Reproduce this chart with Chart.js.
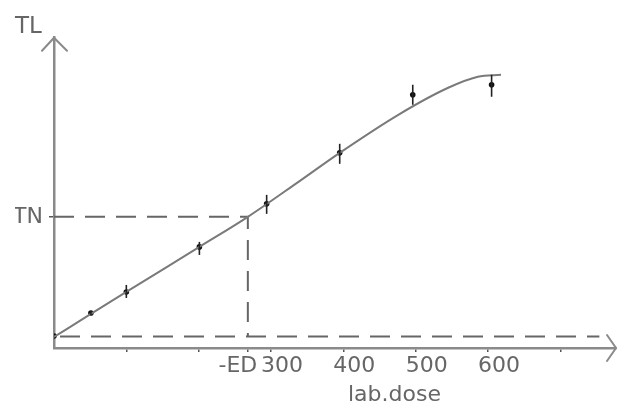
<!DOCTYPE html>
<html>
<head>
<meta charset="utf-8">
<script src="https://cdn.jsdelivr.net/npm/chart.js@4"></script>
<style>
  html, body { margin: 0; padding: 0; background: #ffffff; }
  #c { display: block; }
</style>
</head>
<body>
<canvas id="c" width="620" height="413"></canvas>
<script>
// ---- data ----
const doses     = [0, 51, 100, 201, 294, 395, 496, 605];
const response  = [1.2, 3.5, 5.6, 10.1, 14.4, 19.5, 25.3, 26.3];
const errLow    = [1.2, 3.3, 5.0, 9.3, 13.4, 18.4, 24.3, 25.1];
const errHigh   = [1.2, 3.7, 6.3, 10.6, 15.3, 20.4, 26.3, 27.3];

const fitDose   = [0, 51, 100, 201, 268, 338, 395, 476, 545, 586, 618];
const fitResp   = [1.1, 3.4, 5.6, 10.1, 13.1, 16.6, 19.5, 23.3, 26.0, 27.1, 27.3];

const ED = 268;
const TN = 13.1;
const BASE = 1.15;
const BASE_END = 754;

const xTickValues = [100, 200, ED, 300, 400, 500, 600, 700];
const xTickLabels = ['', '', '-ED      ', '300', '400', '500', '600', ''];
const yTickValues = [TN];
const yTickLabels = ['TN'];

const X_MIN = 0, X_MAX = 777;
const Y_MIN = 0, Y_MAX = 31;

const AXIS = '#8a8a8a';
const TEXT = '#666666';
const FONT = 'DejaVu Sans';

const pts = (xs, ys) => xs.map((x, i) => ({ x: x, y: ys[i] }));

const errorBars = {
  id: 'errorBars',
  afterDatasetsDraw(chart) {
    const xs = chart.scales.x, ys = chart.scales.y, ctx = chart.ctx;
    ctx.save();
    ctx.strokeStyle = '#222';
    ctx.lineWidth = 1.6;
    doses.forEach((d, i) => {
      if (errHigh[i] - errLow[i] < 0.3) return;
      const px = xs.getPixelForValue(d);
      ctx.beginPath();
      ctx.moveTo(px, ys.getPixelForValue(errLow[i]));
      ctx.lineTo(px, ys.getPixelForValue(errHigh[i]));
      ctx.stroke();
    });
    ctx.restore();
  }
};

const arrows = {
  id: 'arrows',
  afterDraw(chart) {
    const ca = chart.chartArea, ctx = chart.ctx;
    ctx.save();
    ctx.strokeStyle = AXIS;
    ctx.lineWidth = 2;
    ctx.lineCap = 'round';
    ctx.beginPath();
    ctx.moveTo(ca.left - 12, ca.top + 13);
    ctx.lineTo(ca.left, ca.top);
    ctx.lineTo(ca.left + 13, ca.top + 13);
    ctx.stroke();
    ctx.beginPath();
    ctx.moveTo(ca.right - 9, ca.bottom - 13);
    ctx.lineTo(ca.right, ca.bottom);
    ctx.lineTo(ca.right - 9, ca.bottom + 13);
    ctx.stroke();
    ctx.restore();
  }
};

new Chart(document.getElementById('c'), {
  type: 'scatter',
  data: {
    datasets: [
      {
        data: pts(fitDose, fitResp),
        showLine: true, pointRadius: 0,
        borderColor: '#7a7a7a', borderWidth: 2,
        cubicInterpolationMode: 'monotone'
      },
      {
        data: [{ x: 0, y: TN }, { x: ED, y: TN }, { x: ED, y: BASE }],
        showLine: true, pointRadius: 0,
        borderColor: '#666666', borderWidth: 2, borderDash: [20, 11]
      },
      {
        data: [{ x: 0, y: BASE }, { x: BASE_END, y: BASE }],
        showLine: true, pointRadius: 0,
        borderColor: '#666666', borderWidth: 2, borderDash: [20, 11], borderDashOffset: -6
      },
      {
        data: pts(doses, response),
        showLine: false, pointRadius: 2.8,
        backgroundColor: '#111111', borderWidth: 0
      }
    ]
  },
  options: {
    responsive: false,
    animation: false,
    layout: { padding: { left: 15, right: 1, top: 0, bottom: 0 } },
    plugins: {
      legend: { display: false },
      tooltip: { enabled: false },
      title: {
        display: true, text: 'TL', align: 'start', color: TEXT,
        font: { family: FONT, size: 23, weight: 'normal', lineHeight: 0.9 },
        padding: { top: 17, bottom: 0 }
      }
    },
    scales: {
      x: {
        type: 'linear', min: X_MIN, max: X_MAX,
        afterBuildTicks: (s) => { s.ticks = xTickValues.map(v => ({ value: v })); },
        afterFit: (s) => { s.height = 65; },
        border: { display: true, color: AXIS, width: 2.5 },
        grid: { display: true, drawOnChartArea: false, drawTicks: true, tickLength: 4, color: '#555', lineWidth: 1.5 },
        ticks: {
          autoSkip: false, maxRotation: 0, minRotation: 0,
          labelOffset: 11, padding: 1, color: TEXT,
          font: { family: FONT, size: 22 },
          callback: (v, i) => xTickLabels[i]
        },
        title: {
          display: true, text: '                 lab.dose', color: TEXT,
          font: { family: FONT, size: 22 }, padding: { top: 0, bottom: 5 }
        }
      },
      y: {
        type: 'linear', min: Y_MIN, max: Y_MAX,
        afterBuildTicks: (s) => { s.ticks = yTickValues.map(v => ({ value: v })); },
        afterFit: (s) => { s.width = 39; },
        border: { display: true, color: AXIS, width: 2.5 },
        grid: { display: true, drawOnChartArea: false, drawTicks: true, tickLength: 5, color: '#555', lineWidth: 1.5 },
        ticks: {
          padding: 6, color: TEXT,
          font: { family: FONT, size: 22 },
          callback: (v, i) => yTickLabels[i]
        }
      }
    }
  },
  plugins: [errorBars, arrows]
});
</script>
</body>
</html>
